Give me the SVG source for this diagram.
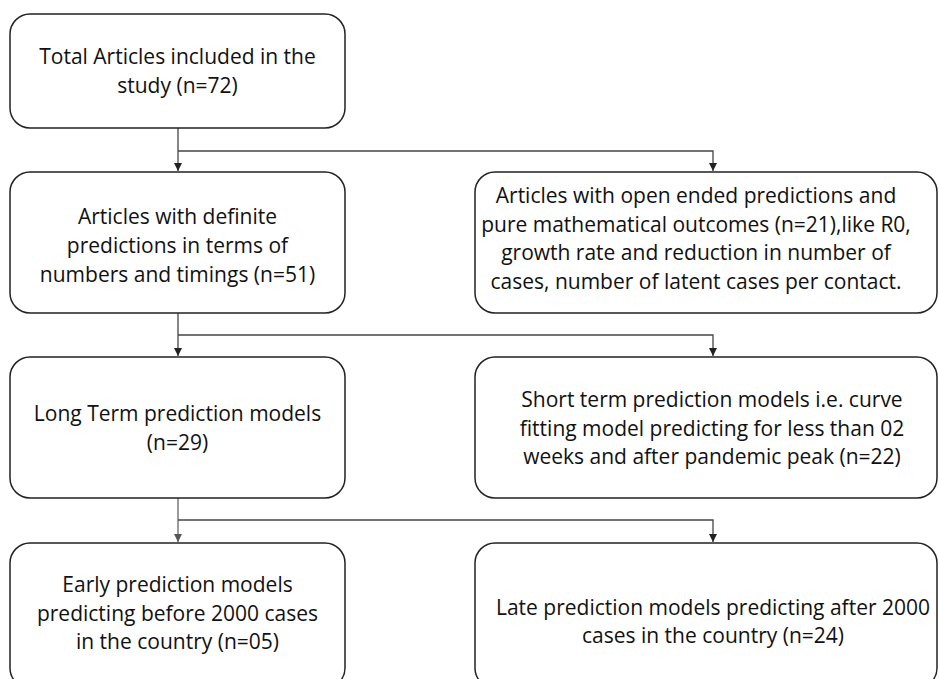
<svg xmlns="http://www.w3.org/2000/svg" width="939" height="679" viewBox="0 0 939 679">
<style>
.box{fill:#fff;stroke:#222;stroke-width:1.5}
.t{font-family:"Open Sans","Liberation Sans",Arial,sans-serif;font-size:21px;fill:#111;text-anchor:middle}
.c{fill:none;stroke:#444;stroke-width:1.3}
.c2{fill:none;stroke:#666;stroke-width:1.3}
</style>
<defs>
<marker id="ah" markerWidth="8" markerHeight="8" refX="8" refY="4" orient="auto" markerUnits="userSpaceOnUse">
<path d="M0,0 L8,4 L0,8 Z" fill="#222"/>
</marker>
<marker id="ah2" markerWidth="8" markerHeight="8" refX="8" refY="4" orient="auto" markerUnits="userSpaceOnUse">
<path d="M0,0 L8,4 L0,8 Z" fill="#555"/>
</marker>
</defs>
<rect width="939" height="679" fill="#fff"/>
<g id="connectors">
<path class="c" d="M178,128 V171" marker-end="url(#ah)"/>
<path class="c" d="M178,151 H713 V171" marker-end="url(#ah)"/>
<path class="c" d="M178,313 V356" marker-end="url(#ah)"/>
<path class="c" d="M178,335 H713 V356" marker-end="url(#ah)"/>
<path class="c2" d="M178,498 V542" marker-end="url(#ah2)"/>
<path class="c" d="M178,520 H713 V542" marker-end="url(#ah)"/>
</g>
<g id="n1">
<rect class="box" x="10" y="14" width="335" height="114" rx="20"/>
<text class="t" x="177.5" y="64">Total Articles included in the</text>
<text class="t" x="177.5" y="93">study (n=72)</text>
</g>
<g id="n2">
<rect class="box" x="10" y="172" width="335" height="141" rx="20"/>
<text class="t" x="177.5" y="224">Articles with definite</text>
<text class="t" x="177.5" y="253">predictions in terms of</text>
<text class="t" x="177.5" y="282">numbers and timings (n=51)</text>
</g>
<g id="n3">
<rect class="box" x="475" y="172" width="462" height="141" rx="20"/>
<text class="t" x="696" y="203">Articles with open ended predictions and</text>
<text class="t" x="696" y="231.5">pure mathematical outcomes (n=21),like R0,</text>
<text class="t" x="696" y="260">growth rate and reduction in number of</text>
<text class="t" x="696" y="288.5">cases, number of latent cases per contact.</text>
</g>
<g id="n4">
<rect class="box" x="10" y="357" width="335" height="141" rx="20"/>
<text class="t" x="177.5" y="421">Long Term prediction models</text>
<text class="t" x="177.5" y="450">(n=29)</text>
</g>
<g id="n5">
<rect class="box" x="475" y="357" width="462" height="141" rx="20"/>
<text class="t" x="712" y="407">Short term prediction models i.e. curve</text>
<text class="t" x="712" y="436">fitting model predicting for less than 02</text>
<text class="t" x="712" y="464">weeks and after pandemic peak (n=22)</text>
</g>
<g id="n6">
<rect class="box" x="10" y="543" width="335" height="145" rx="20"/>
<text class="t" x="177.5" y="592">Early prediction models</text>
<text class="t" x="177.5" y="621">predicting before 2000 cases</text>
<text class="t" x="177.5" y="649">in the country (n=05)</text>
</g>
<g id="n7">
<rect class="box" x="475" y="543" width="462" height="145" rx="20"/>
<text class="t" x="713" y="615">Late prediction models predicting after 2000</text>
<text class="t" x="713" y="643">cases in the country (n=24)</text>
</g>
</svg>
